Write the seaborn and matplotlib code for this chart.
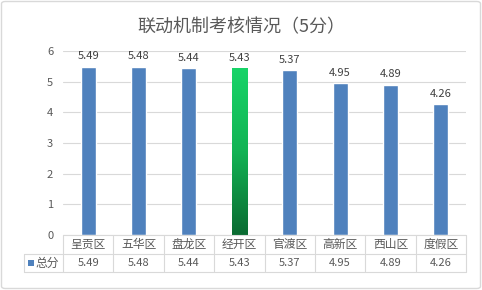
import numpy as np
import pandas as pd
import matplotlib
matplotlib.use("Agg")
import matplotlib.pyplot as plt
import seaborn as sns
from matplotlib.lines import Line2D
from matplotlib.patches import FancyBboxPatch, Rectangle
from matplotlib.colors import LinearSegmentedColormap

categories = ["呈贡区", "五华区", "盘龙区", "经开区", "官渡区", "高新区", "西山区", "度假区"]
values = [5.49, 5.48, 5.44, 5.43, 5.37, 4.95, 4.89, 4.26]
series_name = "总分"
title = "联动机制考核情况（5分）"
yticks = [0, 1, 2, 3, 4, 5, 6]
highlight = "经开区"

sns.set_theme(style="white")
plt.rcParams['font.family'] = ['Noto Sans CJK SC', 'DejaVu Sans']

W, H = 482, 290
fig = plt.figure(figsize=(W / 100, H / 100), dpi=100)
fig.patch.set_facecolor("white")

left_px, right_px, top_px, bot_px = 63, 466, 51, 235
ax = fig.add_axes([left_px / W, 1 - bot_px / H, (right_px - left_px) / W, (bot_px - top_px) / H])

df = pd.DataFrame({"区": categories, "分": values})
blue = "#4F81BD"
sns.barplot(data=df, x="区", y="分", color=blue, width=0.3, ax=ax, saturation=1)

ax.set_ylim(0, 6)
ax.set_xlim(-0.5, len(categories) - 0.5)
ax.set_yticks(yticks)
ax.set_xticks([])
ax.set_xlabel("")
ax.set_ylabel("")
for s in ax.spines.values():
    s.set_visible(False)
ax.tick_params(axis="y", length=0, pad=7, labelsize=8, labelcolor="#595959")
ax.yaxis.grid(True, color="#D9D9D9", linewidth=0.8)
ax.set_axisbelow(True)

# gradient for highlighted bar
gcmap = LinearSegmentedColormap.from_list("g", ["#0B6B32", "#12B354", "#18D468"])
for patch, cat in zip(ax.patches, categories):
    if cat == highlight:
        x0 = patch.get_x(); w = patch.get_width(); h = patch.get_height()
        patch.set_facecolor("none")
        grad = np.linspace(0, 1, 256).reshape(-1, 1)
        im = ax.imshow(grad, cmap=gcmap, origin="lower", aspect="auto",
                       extent=[x0, x0 + w, 0, h], zorder=patch.get_zorder())
        im.set_clip_path(patch)
ax.set_xlim(-0.5, len(categories) - 0.5)
ax.set_ylim(0, 6)

# data labels
for i, v in enumerate(values):
    ax.annotate(f"{v:.2f}", (i, v), xytext=(0, 4), textcoords="offset points",
                ha="center", va="bottom", fontsize=8, color="#404040")

# title
fig.text(0.5, 1 - 27 / H, title, ha="center", va="center", fontsize=13, color="#595959")

# data table
n = len(categories)
lc = "#D9D9D9"
axh = bot_px - top_px
def ya(py):
    return (bot_px - py) / axh
y_top, y_mid, y_bot = ya(235), ya(254), ya(272)
trans = ax.get_xaxis_transform()
px_per_unit = (right_px - left_px) / n
x_leg = -0.5 - (left_px - 24) / px_per_unit
kw = dict(color=lc, linewidth=0.8, transform=trans, clip_on=False)
ax.add_line(Line2D([-0.5, n - 0.5], [y_top, y_top], **kw))
ax.add_line(Line2D([x_leg, n - 0.5], [y_mid, y_mid], **kw))
ax.add_line(Line2D([x_leg, n - 0.5], [y_bot, y_bot], **kw))
ax.add_line(Line2D([x_leg, x_leg], [y_mid, y_bot], **kw))
for k in range(n + 1):
    ax.add_line(Line2D([k - 0.5, k - 0.5], [y_top, y_bot], **kw))
for i, (c, v) in enumerate(zip(categories, values)):
    ax.text(i, (y_top + y_mid) / 2, c, ha="center", va="center", fontsize=8.5,
            color="#595959", transform=trans, clip_on=False)
    ax.text(i, (y_mid + y_bot) / 2, f"{v:.2f}", ha="center", va="center", fontsize=8,
            color="#595959", transform=trans, clip_on=False)
# legend key in table
ym = (y_mid + y_bot) / 2
key_w = 6 / px_per_unit
key_h = 6 / axh
ax.add_patch(Rectangle((x_leg + 4 / px_per_unit, ym - key_h / 2), key_w, key_h,
                       facecolor=blue, edgecolor="none", transform=trans, clip_on=False))
ax.text(x_leg + 11 / px_per_unit, ym, series_name, ha="left", va="center", fontsize=8.5,
        color="#595959", transform=trans, clip_on=False)

# outer border
fig.patches.append(FancyBboxPatch((1.5 / W, 1.5 / H), (W - 3) / W, (H - 3) / H,
                                  boxstyle="round,pad=0,rounding_size=0.008",
                                  transform=fig.transFigure, facecolor="none",
                                  edgecolor="#D9D9D9", linewidth=1))

fig.savefig("out.png", dpi=100, facecolor="white")
